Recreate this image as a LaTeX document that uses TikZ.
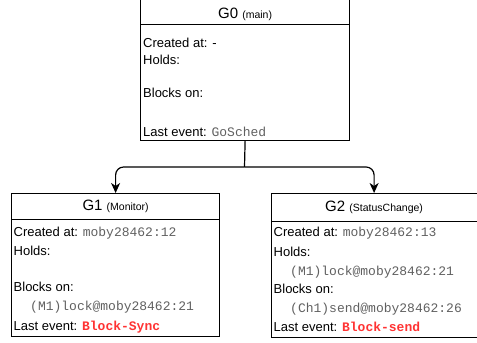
\documentclass[tikz,border=0pt]{standalone}
\usepackage{fontspec}
\setmainfont{Liberation Sans}
\newfontfamily\monof{Liberation Mono}
\usetikzlibrary{arrows.meta}
\definecolor{codegray}{HTML}{606060}
\definecolor{codered}{HTML}{FF3333}
\newcommand{\codeg}[1]{{\monof\color{codegray}#1}}
\newcommand{\coder}[1]{{\monof\bfseries\color{codered}#1}}
\newcommand{\smallp}[1]{{\fontsize{10.5}{12}\selectfont #1}}
\tikzset{
  box/.style={draw, line width=1.2pt, inner sep=0pt, anchor=north west},
  head/.style={font=\fontsize{15}{17}\selectfont, inner sep=0pt},
  txt/.style={anchor=base west, inner sep=0pt, font=\fontsize{13}{15}\selectfont},
  conn/.style={line width=1.2pt},
  arr/.style={conn, rounded corners=8pt, -{Stealth[length=10pt,width=9pt,inset=3pt]}}
}
\begin{document}
\begin{tikzpicture}[x=1pt,y=-1pt]
\useasboundingbox (0,0) rectangle (477,343);
% G0
\node[box, minimum width=209pt, minimum height=26pt] (g0h) at (140,-2) {};
\node[box, minimum width=209pt, minimum height=116pt] (g0b) at (140,24) {};
\node[head] (g0t) at ([yshift=-3.2pt]g0h.center) {G0 \smallp{(main)}};
\node[txt] (g0l1) at (143,47) {Created at: -};
\node[txt] (g0l2) at (143,64.5) {Holds:};
\node[txt] (g0l3) at (143,97.5) {Blocks on:};
\node[txt] (g0l4) at (143,136.5) {Last event: \codeg{GoSched}};
% G1
\node[box, minimum width=208pt, minimum height=26pt] (g1h) at (11,193) {};
\node[box, minimum width=208pt, minimum height=117pt] (g1b) at (11,219) {};
\node[head] (g1t) at (g1h.center) {G1 \smallp{(Monitor)}};
\node[txt] (g1l1) at (13.5,236) {Created at: \codeg{moby28462:12}};
\node[txt] (g1l2) at (13.5,255) {Holds:};
\node[txt] (g1l3) at (13.5,291.7) {Blocks on:};
\node[txt] (g1l4) at (30,310) {\codeg{(M1)lock@moby28462:21}};
\node[txt] (g1l5) at (13.5,330) {Last event: \coder{Block-Sync}};
% G2
\node[box, minimum width=206pt, minimum height=27.5pt] (g2h) at (270.5,193) {};
\node[box, minimum width=206pt, minimum height=116pt] (g2b) at (270.5,220.5) {};
\node[head] (g2t) at (g2h.center) {G2 \smallp{(StatusChange)}};
\node[txt] (g2l1) at (273.5,236.5) {Created at: \codeg{moby28462:13}};
\node[txt] (g2l2) at (273.5,256) {Holds:};
\node[txt] (g2l3) at (290,275) {\codeg{(M1)lock@moby28462:21}};
\node[txt] (g2l4) at (273.5,293.3) {Blocks on:};
\node[txt] (g2l5) at (290,312) {\codeg{(Ch1)send@moby28462:26}};
\node[txt] (g2l6) at (273.5,331.7) {Last event: \coder{Block-send}};
% connectors
\coordinate (split) at (244.5,167);
\draw[conn] (g0b.south) -- (split);
\draw[arr] (split) -| (g1h.north);
\draw[arr] (split) -| (g2h.north);
\end{tikzpicture}
\end{document}
